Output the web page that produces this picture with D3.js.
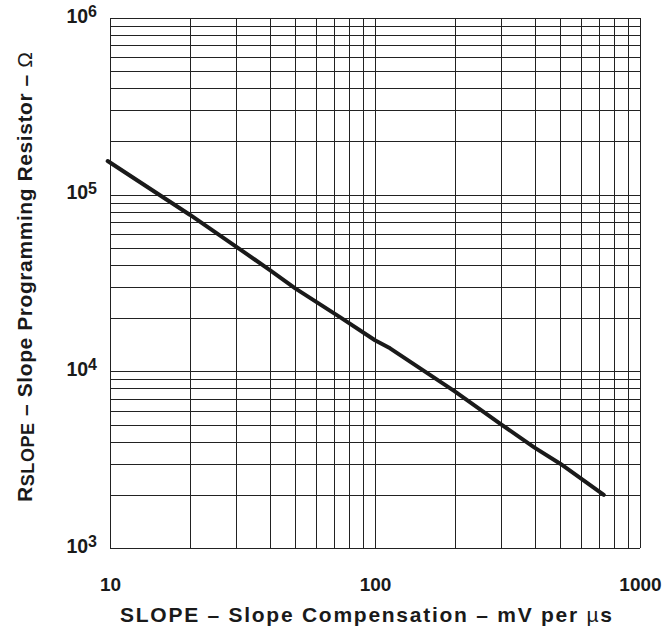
<!DOCTYPE html>
<html>
  <head>
    <meta charset="utf-8">
    <title>Slope Programming Resistor</title>
    <style>
      body { margin: 0; background: #fff; }
      .chart text {
        font-family: "Liberation Sans", Arial, sans-serif;
        font-weight: bold;
        fill: #1a1a1a;
      }
      .grid line {
        stroke: #222;
        stroke-width: 1;
        shape-rendering: crispEdges;
      }
      .curve {
        fill: none;
        stroke: #1a1a1a;
        stroke-width: 4;
        stroke-linejoin: round;
        stroke-linecap: round;
      }
    </style>
  </head>
  <body>
    <div class="chart"></div>

    <script src="https://d3js.org/d3.v7.min.js"></script>
    <script>
      // Curve: slope compensation (mV/us) vs resistor (ohm)
      var slope = [9.8, 20, 30, 40, 50, 74, 100, 114, 200, 300, 400, 500, 730];
      var resistor = [155000, 77000, 50700, 37500, 29500, 20200, 15000, 13500, 7700, 5000, 3700, 3000, 2000];

      // Tick labels
      var xTickValues = [10, 100, 1000];
      var yTickExponents = [3, 4, 5, 6];

      var width = 664, height = 628;
      var margin = {top: 18, right: 24, bottom: 80, left: 110};
      var plotW = width - margin.left - margin.right;
      var plotH = height - margin.top - margin.bottom;

      var svg = d3.select(".chart").append("svg")
        .attr("width", width)
        .attr("height", height);

      var g = svg.append("g")
        .attr("transform", "translate(" + margin.left + "," + margin.top + ")");

      var x = d3.scaleLog().domain([10, 1000]).range([0, plotW]);
      var y = d3.scaleLog().domain([1e3, 1e6]).range([plotH, 0]);

      // Grid lines (log minor grid)
      var grid = g.append("g").attr("class", "grid");
      grid.selectAll(".vx")
        .data(x.ticks())
        .enter().append("line")
        .attr("x1", function(d) { return Math.round(x(d)) + 0.5; })
        .attr("x2", function(d) { return Math.round(x(d)) + 0.5; })
        .attr("y1", 0)
        .attr("y2", plotH);
      grid.selectAll(".hy")
        .data(y.ticks())
        .enter().append("line")
        .attr("x1", 0)
        .attr("x2", plotW)
        .attr("y1", function(d) { return Math.round(y(d)) + 0.5; })
        .attr("y2", function(d) { return Math.round(y(d)) + 0.5; });

      // X axis labels
      var xAxis = d3.axisBottom(x)
        .tickValues(xTickValues)
        .tickFormat(d3.format("d"))
        .tickSize(0)
        .tickPadding(30);
      var gx = g.append("g")
        .attr("transform", "translate(0," + plotH + ")")
        .call(xAxis);
      gx.select(".domain").remove();
      gx.selectAll("text")
        .style("font-size", "19px")
        .attr("fill", "#1a1a1a");

      // Y axis labels with superscript exponents
      var yAxis = d3.axisLeft(y)
        .tickValues(yTickExponents.map(function(e) { return Math.pow(10, e); }))
        .tickFormat("")
        .tickSize(0)
        .tickPadding(13);
      var gy = g.append("g").call(yAxis);
      gy.select(".domain").remove();
      gy.selectAll(".tick text")
        .attr("dy", "0.4em")
        .attr("fill", "#1a1a1a")
        .each(function(d) {
          var t = d3.select(this);
          t.append("tspan").style("font-size", "19.5px").text("10");
          t.append("tspan").style("font-size", "16px").attr("dy", "-5.5")
            .text(Math.round(Math.log10(d)));
        });

      // Curve
      var line = d3.line()
        .x(function(d, i) { return x(slope[i]); })
        .y(function(d) { return y(d); });
      g.append("path")
        .datum(resistor)
        .attr("class", "curve")
        .attr("d", line);

      // Axis titles
      var xt = svg.append("text")
        .attr("x", 366)
        .attr("y", 622)
        .attr("text-anchor", "middle")
        .attr("textLength", 492)
        .attr("lengthAdjust", "spacing")
        .style("font-size", "21px");
      xt.append("tspan").text("SLOPE \u2013 Slope Compensation \u2013 mV per ");
      xt.append("tspan").style("font-weight", "normal").text("\u00b5");
      xt.append("tspan").text("s");

      var yt = svg.append("text")
        .attr("transform", "translate(32,277) rotate(-90)")
        .attr("text-anchor", "middle")
        .attr("textLength", 450)
        .attr("lengthAdjust", "spacing")
        .style("font-size", "21px");
      yt.append("tspan").text("R");
      yt.append("tspan").style("font-size", "18px").attr("dy", "2").text("SLOPE");
      yt.append("tspan").attr("dy", "-2").text(" \u2013 Slope Programming Resistor  \u2013 ");
      yt.append("tspan").style("font-weight", "normal").text("\u03a9");
    </script>
  </body>
</html>
